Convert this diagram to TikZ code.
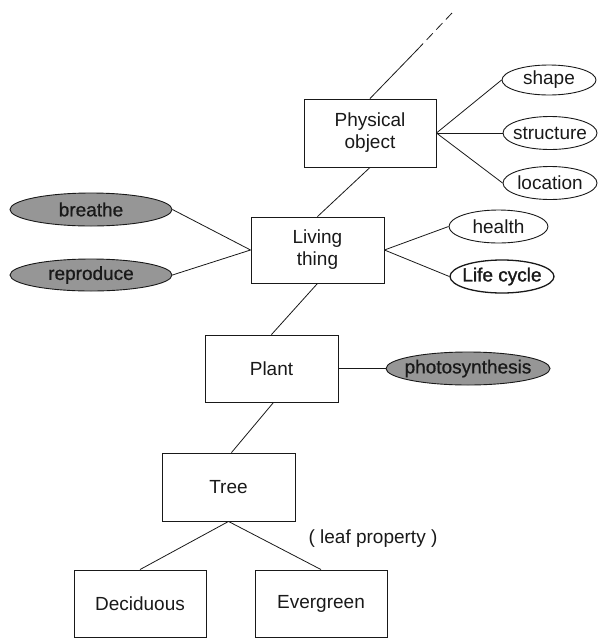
\documentclass[tikz,border=0pt]{standalone}
\usepackage{fontspec}
\setmainfont{Liberation Sans}
\newfontfamily\heavyfont[FakeBold=1.4]{Liberation Sans}
\newfontfamily\semifont[FakeBold=0.7]{Liberation Sans}
\usetikzlibrary{shapes.geometric}
\definecolor{shade}{RGB}{150,150,150}
\definecolor{ink}{RGB}{25,25,25}
\newcommand{\ztext}[1]{\makebox[0pt]{#1}}
\begin{document}
\begin{tikzpicture}[x=1pt,y=-1pt,
  every node/.style={font=\fontsize{19}{22}\selectfont, text=ink},
  concept/.style={draw=ink, line width=0.9pt, rectangle, inner sep=0pt, align=center},
  attr/.style={draw=ink, line width=0.9pt, ellipse, inner sep=0pt},
  darkattr/.style={attr, fill=shade, font=\fontsize{19}{22}\semifont},
  link/.style={draw=ink, line width=0.8pt}]
\useasboundingbox (0,0) rectangle (598,638);
% concept boxes
\node[concept, minimum width=132pt, minimum height=68pt] (phys) at (370,133) {Physical\\object};
\node[concept, minimum width=133pt, minimum height=66pt] (living) at (317.5,250) {Living\\thing};
\node[concept, minimum width=133pt, minimum height=67pt] (plant) at (271.5,368.5) {Plant};
\node[concept, minimum width=133pt, minimum height=68pt] (tree) at (228.5,487) {Tree};
\node[concept, minimum width=132pt, minimum height=67pt] (decid) at (140,603.5) {Deciduous};
\node[concept, minimum width=132pt, minimum height=67pt] (ever) at (321,603.5) {Evergreen};
% attribute ellipses
\node[attr, minimum width=94pt, minimum height=30pt] (shape) at (549,80) {\ztext{shape}};
\node[attr, minimum width=94pt, minimum height=33pt] (structure) at (550,133) {\ztext{structure}};
\node[attr, minimum width=94pt, minimum height=33pt] (location) at (550,183) {\ztext{location}};
\node[attr, minimum width=99pt, minimum height=33pt] (health) at (498.5,226.5) {\ztext{health}};
\node[attr, line width=1.3pt, minimum width=104pt, minimum height=33pt, font=\fontsize{19}{22}\heavyfont] (cycle) at (502,276.5) {\ztext{Life cycle}};
\node[darkattr, minimum width=162pt, minimum height=33pt] (breathe) at (91,209.5) {\ztext{breathe}};
\node[darkattr, minimum width=162pt, minimum height=32pt] (repro) at (91,275) {\ztext{reproduce}};
\node[darkattr, minimum width=164pt, minimum height=33pt] (photo) at (468,368.5) {\ztext{photosynthesis}};
% label
\node (leaf) at (373,539) {( leaf property )};
% upward continuation
\coordinate (up1) at (417,50);
\coordinate (up2) at (452,13);
\draw[link] (phys.north) -- (up1);
\draw[link, dash pattern=on 9pt off 5pt] (up1) -- (up2);
% hierarchy
\draw[link] (phys.south) -- (living.north);
\draw[link] (living.south) -- (plant.north);
\draw[link] ([xshift=2pt]plant.south) -- ([xshift=3pt]tree.north);
\draw[link] (tree.south) -- (decid.north);
\draw[link] (tree.south) -- (ever.north);
% attributes
\draw[link] (phys.east) -- (shape.west);
\draw[link] (phys.east) -- (structure.west);
\draw[link] (phys.east) -- (location.west);
\draw[link] (living.west) -- (breathe.east);
\draw[link] (living.west) -- (repro.east);
\draw[link] (living.east) -- (health.west);
\draw[link] (living.east) -- (cycle.west);
\draw[link] (plant.east) -- (photo.west);
\end{tikzpicture}
\end{document}
